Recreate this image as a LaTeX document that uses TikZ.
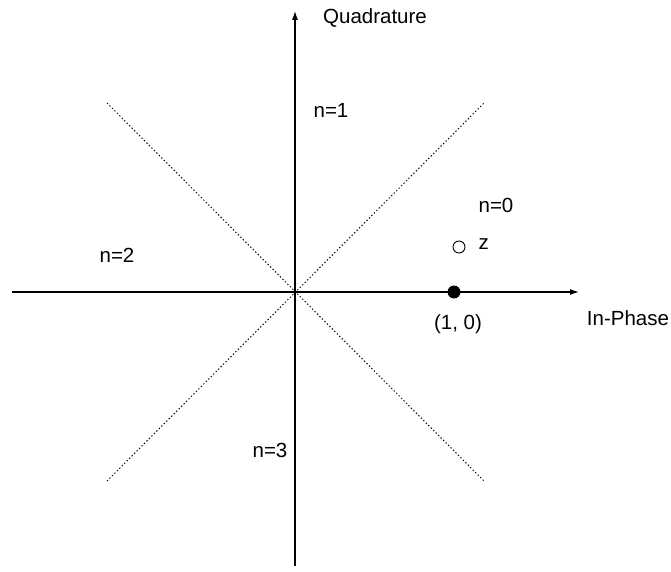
\documentclass[tikz,border=0pt]{standalone}
\usepackage{fontspec}
\setmainfont{Liberation Sans}
\usetikzlibrary{positioning,arrows.meta}

\begin{document}
\begin{tikzpicture}[
  x=1pt, y=-1pt,
  font=\fontsize{20.5}{24}\selectfont, >={Latex[length=9pt, width=6pt]},
  axis/.style={->, line width=1.1pt},
  border/.style={dash pattern=on 1.3pt off 2.2pt, line width=1pt},
  lbl/.style={inner sep=0pt},
  dot/.style={circle, draw, line width=0.9pt, inner sep=0pt, minimum size=12pt},
]
\useasboundingbox (0,0) rectangle (671,572);
% ---- axes ----
\coordinate (o) at (295,292);
\coordinate (xl) at (12,292);
\coordinate (xr) at (579,292);
\coordinate (yb) at (295,566);
\coordinate (yt) at (295,11);
\draw[axis] (xl) -- (xr);
\draw[axis] (yb) -- (yt);
% ---- decision borders ----
\coordinate (ul) at (107,103);
\coordinate (ur) at (484,103);
\coordinate (ll) at (107,481);
\coordinate (lr) at (484,481);
\draw[border] (ul) -- (lr);
\draw[border] (ll) -- (ur);
% ---- points ----
\node[dot, fill=black] (one) at (454,292) {};
\node[dot] (z) at (459,247) {};
% ---- labels ----
\node[lbl] (quad) at (375,18) {Quadrature};
\node[lbl] (inph) at (628,318) {In-Phase};
\node[lbl] (onelbl) at (458,324) {(1, 0)};
\node[lbl, right=13pt of z, yshift=3pt] (zlbl) {z};
\node[lbl] (n0) at (496,205) {n=0};
\node[lbl] (n1) at (331,110) {n=1};
\node[lbl] (n2) at (117,255) {n=2};
\node[lbl] (n3) at (270,450) {n=3};
\end{tikzpicture}
\end{document}
